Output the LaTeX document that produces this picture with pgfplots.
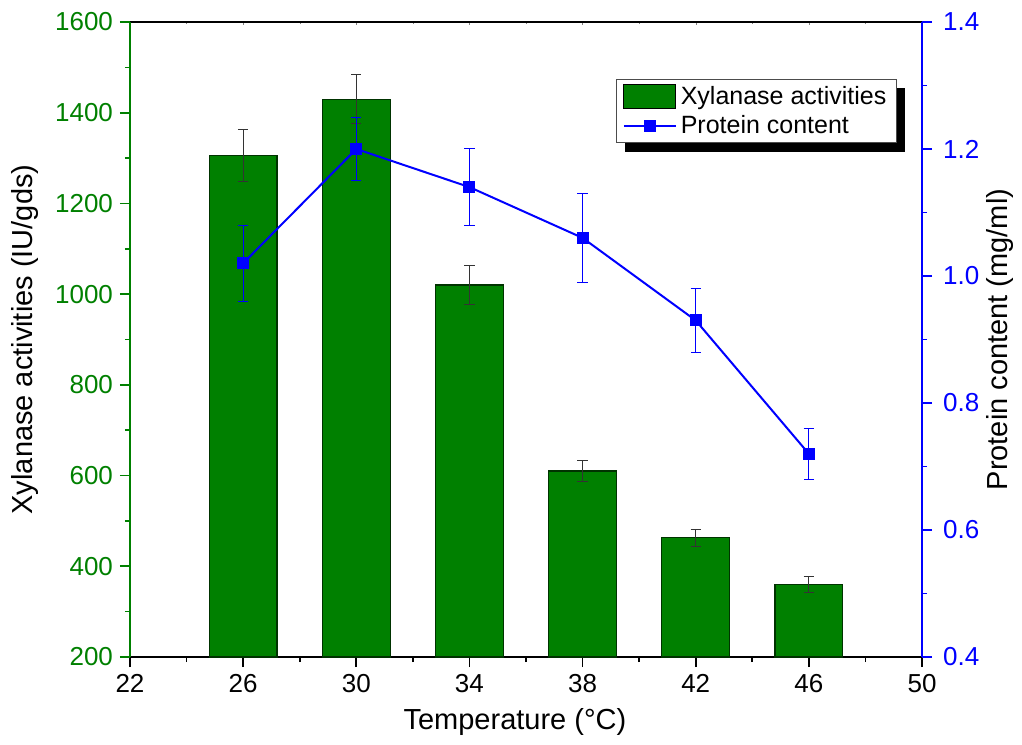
\documentclass[border=0pt]{standalone}
\usepackage{fontspec}
\setmainfont{Liberation Sans}
\usepackage{pgfplots}
\pgfplotsset{compat=1.18}
\usetikzlibrary{calc}
\pgfdeclarelayer{background}
\pgfsetlayers{background,main}
\definecolor{bargreen}{RGB}{0,128,0}
\definecolor{axgreen}{RGB}{0,128,0}
\definecolor{pblue}{RGB}{0,0,255}
\begin{document}
\begin{tikzpicture}[x=1pt,y=1pt]
\path[use as bounding box] (-65,-43.5) rectangle (446,328.5);
\pgfplotsset{
  common/.style={
    at={(0,0)}, anchor=south west, scale only axis,
    width=396pt, height=317.5pt,
    xmin=22, xmax=50, xtick={22,26,30,34,38,42,46,50}, minor x tick num=1,
    /pgf/number format/assume math mode=true,
    /pgf/number format/1000 sep={},
    tick label style={font=\fontsize{13}{15}\selectfont},
    label style={font=\fontsize{14.5}{17}\selectfont},
    major tick length=5pt, minor tick length=2.5pt,
    tick align=outside,
  }
}
% top frame line with small inward ticks
\begin{axis}[common, axis x line*=top, axis y line=none, tick align=inside,
  xticklabels={}, major tick length=1.5pt, minor tick length=1pt,
  x axis line style={line width=0.8pt}, ymin=0, ymax=1]
\end{axis}
% bars
\begin{axis}[common, axis x line*=bottom, axis y line*=left,
  ymin=200, ymax=1600, ytick={200,400,600,800,1000,1200,1400,1600}, minor y tick num=1,
  x axis line style={line width=0.9pt},
  y axis line style={draw=axgreen, line width=0.9pt},
  x tick style={black, line width=0.8pt},
  y tick style={axgreen, line width=0.8pt},
  y tick label style={text=axgreen},
  xlabel={Temperature (°C)}, ylabel={Xylanase activities (IU/gds)},
  xlabel style={at={(axis description cs:0.486,-0.1024)}, anchor=center},
  ylabel style={at={(axis description cs:-0.1326,0.5)}, anchor=center},
  clip=true]
\addplot[ybar, bar width=2.4, fill=bargreen, draw=black!60!bargreen, line width=0.6pt,
  error bars/.cd, y dir=both, y explicit,
  error bar style={black!80, line width=0.5pt},
  error mark options={rotate=90, mark size=2.6pt, black!80, line width=0.5pt}]
coordinates {
  (26,1305) +- (0,57)
  (30,1430) +- (0,54)
  (34,1020) +- (0,43)
  (38,610) +- (0,24)
  (42,463) +- (0,19)
  (46,360) +- (0,17)
};
\end{axis}
% protein
\begin{axis}[common, axis x line=none, axis y line*=right,
  ymin=0.4, ymax=1.4, ytick={0.4,0.6,0.8,1.0,1.2,1.4}, minor y tick num=1,
  y axis line style={draw=pblue, line width=0.9pt},
  y tick style={pblue, line width=0.8pt},
  y tick label style={text=pblue, xshift=2pt, /pgf/number format/.cd, fixed, fixed zerofill, precision=1},
  ylabel={Protein content (mg/ml)},
  ylabel style={at={(axis description cs:1.0985,0.5)}, anchor=center},
  legend cell align=left,
  legend style={at={(axis description cs:0.614,0.910)}, anchor=north west,
    name=leg,
    draw=black!70, fill=white, line width=0.5pt,
    font=\fontsize{12.5}{14.5}\selectfont,
    inner xsep=3pt, inner ysep=1.2pt, row sep=0pt,
    /tikz/every even column/.append style={column sep=4pt}},
]
\addlegendimage{legend image code/.code={\draw[fill=bargreen, draw=black, line width=0.5pt] (0pt,-6pt) rectangle (26pt,6pt);}}
\addlegendentry{Xylanase activities}
\addplot[pblue, line width=1pt, mark=square*, mark size=2.5pt,
  mark options={pblue},
  legend image code/.code={\draw[pblue, line width=1pt] (0pt,0pt) -- (26pt,0pt); \fill[pblue] (10.5pt,-2.5pt) rectangle (15.5pt,2.5pt);},
  error bars/.cd, y dir=both, y explicit,
  error bar style={pblue, line width=0.5pt},
  error mark options={rotate=90, mark size=2.6pt, pblue, line width=0.5pt}]
coordinates {
  (26,1.02) +- (0,0.06)
  (30,1.20) +- (0,0.05)
  (34,1.14) +- (0,0.06)
  (38,1.06) +- (0,0.07)
  (42,0.93) +- (0,0.05)
  (46,0.72) +- (0,0.04)
};
\addlegendentry{Protein content}
\end{axis}
\begin{pgfonlayer}{background}
\fill[black] ($(leg.south west)+(4.2pt,-4.2pt)$) rectangle ($(leg.north east)+(4.2pt,-4.2pt)$);
\end{pgfonlayer}
\end{tikzpicture}
\end{document}
